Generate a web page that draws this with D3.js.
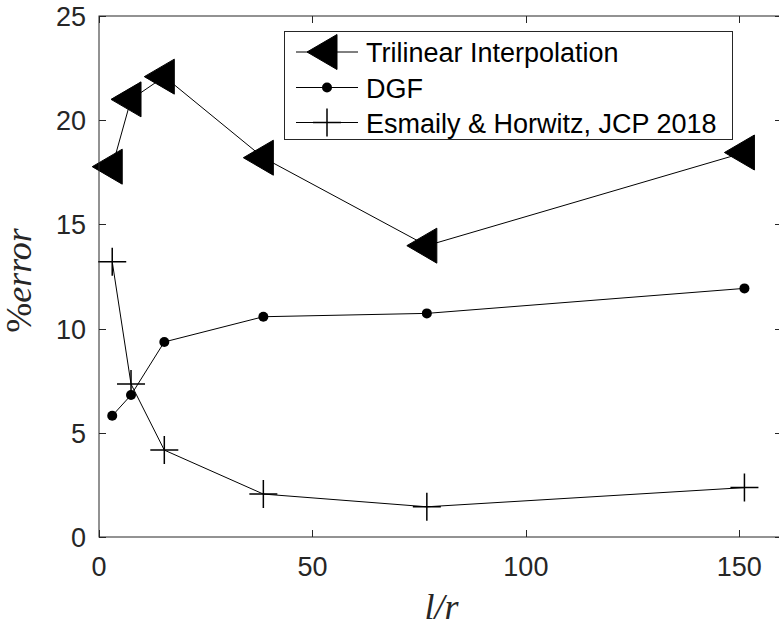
<!DOCTYPE html>
<html>
<head>
<meta charset="utf-8">
<script src="https://cdn.jsdelivr.net/npm/d3@7"></script>
<style>
  html, body { margin: 0; padding: 0; background: #fff; }
  svg { display: block; }
</style>
</head>
<body>
<script>
// ---- data ----
const lr = [3.1, 7.5, 15.3, 38.5, 76.8, 151.2];
const trilinear = [17.77, 21.0, 22.09, 18.2, 13.98, 18.45];
const dgf = [5.82, 6.81, 9.36, 10.57, 10.73, 11.93];
const esmaily = [13.21, 7.34, 4.17, 2.06, 1.45, 2.37];
const seriesNames = ["Trilinear Interpolation", "DGF", "Esmaily & Horwitz, JCP 2018"];
const xTicks = [0, 50, 100, 150];
const yTicks = [0, 5, 10, 15, 20, 25];
const xDomain = [0, 160];
const yDomain = [0, 25];

// ---- layout ----
const W = 779, H = 629;
const mLeft = 99, mTop = 16, plotW = 683, plotH = 521;
const axisColor = "#262626";
const tickFont = "Liberation Sans, Arial, Helvetica, sans-serif";

const svg = d3.select("body").append("svg").attr("width", W).attr("height", H);

const x = d3.scaleLinear().domain(xDomain).range([mLeft, mLeft + plotW]);
const y = d3.scaleLinear().domain(yDomain).range([mTop + plotH, mTop]);

// ---- series ----
const series = [
  { name: seriesNames[0], values: trilinear, marker: "tri" },
  { name: seriesNames[1], values: dgf, marker: "dot" },
  { name: seriesNames[2], values: esmaily, marker: "plus" }
];

const line = d3.line().x(d => x(d[0])).y(d => y(d[1]));

function drawMarker(g, type, cx, cy) {
  if (type === "tri") {
    g.append("path")
      .attr("d", `M${cx - 20},${cy} L${cx + 10},${cy - 17.5} L${cx + 10},${cy + 17.5} Z`)
      .attr("fill", "#000").attr("stroke", "#000").attr("stroke-width", 1);
  } else if (type === "dot") {
    g.append("circle").attr("cx", cx).attr("cy", cy).attr("r", 5).attr("fill", "#000");
  } else {
    g.append("path")
      .attr("d", `M${cx - 14},${cy} L${cx + 14},${cy} M${cx},${cy - 14} L${cx},${cy + 14}`)
      .attr("stroke", "#000").attr("stroke-width", 1.5).attr("fill", "none");
  }
}

const plotG = svg.append("g");
series.forEach(s => {
  const pts = lr.map((v, i) => [v, s.values[i]]);
  const g = plotG.append("g");
  g.append("path").attr("d", line(pts)).attr("fill", "none")
    .attr("stroke", "#000").attr("stroke-width", 1);
  pts.forEach(p => drawMarker(g, s.marker, x(p[0]), y(p[1])));
});

// ---- axes ----
const tickLen = 7;
const axG = svg.append("g");
axG.append("rect").attr("x", mLeft).attr("y", mTop).attr("width", plotW).attr("height", plotH)
  .attr("fill", "none").attr("stroke", axisColor).attr("stroke-width", 1);

xTicks.forEach(t => {
  const px = Math.round(x(t)) + 0.5;
  axG.append("line").attr("x1", px).attr("x2", px).attr("y1", mTop + plotH).attr("y2", mTop + plotH - tickLen)
    .attr("stroke", axisColor);
  axG.append("line").attr("x1", px).attr("x2", px).attr("y1", mTop).attr("y2", mTop + tickLen)
    .attr("stroke", axisColor);
  axG.append("text").attr("x", x(t)).attr("y", mTop + plotH + 39)
    .attr("text-anchor", "middle").attr("font-family", tickFont).attr("font-size", 27)
    .attr("fill", axisColor).text(t);
});
yTicks.forEach(t => {
  const py = Math.round(y(t)) + 0.5;
  axG.append("line").attr("x1", mLeft).attr("x2", mLeft + tickLen).attr("y1", py).attr("y2", py)
    .attr("stroke", axisColor);
  axG.append("line").attr("x1", mLeft + plotW).attr("x2", mLeft + plotW - tickLen).attr("y1", py).attr("y2", py)
    .attr("stroke", axisColor);
  axG.append("text").attr("x", mLeft - 13).attr("y", y(t) + 10)
    .attr("text-anchor", "end").attr("font-family", tickFont).attr("font-size", 27)
    .attr("fill", axisColor).text(t);
});

// axis labels
const serif = "Liberation Serif, DejaVu Serif, Times New Roman, serif";
svg.append("text").attr("x", x(80) + 1).attr("y", 619)
  .attr("text-anchor", "middle").attr("font-family", serif).attr("font-style", "italic")
  .attr("font-size", 36).attr("fill", axisColor).text("l/r");

const yl = svg.append("text")
  .attr("transform", `translate(31,${mTop + plotH / 2 + 4}) rotate(-90)`)
  .attr("text-anchor", "middle").attr("font-family", serif)
  .attr("font-size", 36).attr("fill", axisColor);
yl.append("tspan").text("%");
yl.append("tspan").attr("font-style", "italic").text("error");

// ---- legend ----
const lg = svg.append("g");
const lx = 284, ly = 31, lw = 448, lh = 108;
lg.append("rect").attr("x", lx + 0.5).attr("y", ly + 0.5).attr("width", lw).attr("height", lh)
  .attr("fill", "#fff").attr("stroke", axisColor).attr("stroke-width", 1);
const rowY = [52, 87.5, 122.5];
series.forEach((s, i) => {
  const cy = rowY[i];
  lg.append("line").attr("x1", 296).attr("x2", 358).attr("y1", cy).attr("y2", cy)
    .attr("stroke", "#000").attr("stroke-width", 1);
  drawMarker(lg, s.marker, 327, cy);
  lg.append("text").attr("x", 366).attr("y", cy + 10)
    .attr("font-family", tickFont).attr("font-size", 27).attr("fill", "#000").text(s.name);
});
</script>
</body>
</html>
